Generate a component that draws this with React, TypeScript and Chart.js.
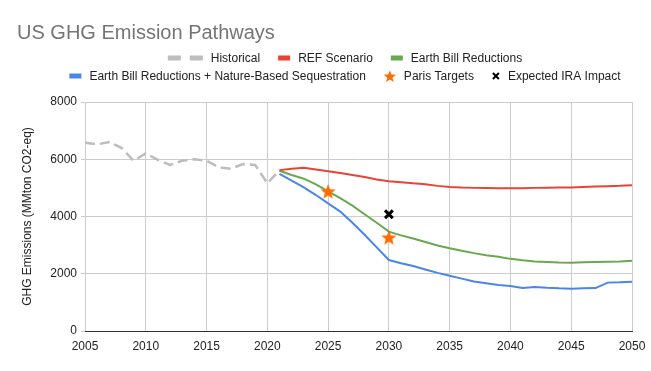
import React, { useEffect, useRef } from "react";
import { Chart, registerables } from "chart.js";

Chart.register(...registerables);

// ---------- DATA ----------
const histYears = [2005, 2006, 2007, 2008, 2009, 2010, 2011, 2012, 2013, 2014, 2015, 2016, 2017, 2018, 2019, 2020, 2021];
const histValues = [6580, 6520, 6600, 6400, 5950, 6200, 5980, 5800, 5950, 6000, 5950, 5720, 5670, 5830, 5800, 5160, 5620];

const projYears = [2021, 2022, 2023, 2024, 2025, 2026, 2027, 2028, 2029, 2030, 2031, 2032, 2033, 2034, 2035, 2036, 2037, 2038, 2039, 2040, 2041, 2042, 2043, 2044, 2045, 2046, 2047, 2048, 2049, 2050];
const refValues = [5620, 5670, 5700, 5640, 5580, 5520, 5450, 5380, 5290, 5230, 5200, 5160, 5130, 5070, 5030, 5010, 5000, 4995, 4990, 4985, 4990, 5000, 5005, 5010, 5010, 5030, 5050, 5060, 5070, 5090];
const ebValues = [5600, 5450, 5320, 5120, 4880, 4640, 4380, 4080, 3780, 3470, 3340, 3230, 3110, 2990, 2890, 2800, 2720, 2650, 2590, 2520, 2470, 2430, 2410, 2390, 2380, 2400, 2410, 2420, 2430, 2450];
const nbsValues = [5490, 5250, 5020, 4750, 4460, 4170, 3780, 3360, 2920, 2480, 2370, 2270, 2150, 2030, 1930, 1830, 1730, 1670, 1610, 1570, 1500, 1540, 1510, 1490, 1480, 1490, 1500, 1690, 1700, 1720];

const parisYears = [2025, 2030];
const parisValues = [4880, 3270];
const iraYears = [2030];
const iraValues = [4080];

const xTicks = [2005, 2010, 2015, 2020, 2025, 2030, 2035, 2040, 2045, 2050];
const yTicks = [0, 2000, 4000, 6000, 8000];

const seriesLabels = [
  "Historical",
  "REF Scenario",
  "Earth Bill Reductions",
  "Earth Bill Reductions + Nature-Based Sequestration",
  "Paris Targets",
  "Expected IRA Impact",
];
const chartTitle = "US GHG Emission Pathways";
const yAxisTitle = "GHG Emissions (MMton CO2-eq)";

// ---------- STYLE ----------
const GRAY = "#bdbdbd";
const RED = "#ea4335";
const GREEN = "#6aa84f";
const BLUE = "#4a86e8";
const ORANGE = "#ff6d01";
const FONT = "'Liberation Sans', Arial, sans-serif";

const toPoints = (xs: number[], ys: number[]) => xs.map((x, i) => ({ x, y: ys[i] }));

function starPath(ctx: CanvasRenderingContext2D, cx: number, cy: number, outer: number, inner: number) {
  ctx.beginPath();
  for (let i = 0; i < 10; i++) {
    const r = i % 2 === 0 ? outer : inner;
    const a = -Math.PI / 2 + (i * Math.PI) / 5;
    const px = cx + r * Math.cos(a);
    const py = cy + r * Math.sin(a);
    if (i === 0) ctx.moveTo(px, py);
    else ctx.lineTo(px, py);
  }
  ctx.closePath();
}

function makeStar(size: number, outer: number, inner: number, color: string) {
  const c = document.createElement("canvas");
  c.width = size;
  c.height = size;
  const ctx = c.getContext("2d")!;
  starPath(ctx, size / 2, size / 2 + 0.8, outer, inner);
  ctx.fillStyle = color;
  ctx.fill();
  return c;
}

const titleLegendPlugin = {
  id: "titleLegend",
  afterDraw(chart: any) {
    const ctx: CanvasRenderingContext2D = chart.ctx;
    ctx.save();
    // title
    ctx.font = `20px ${FONT}`;
    ctx.fillStyle = "#757575";
    ctx.textBaseline = "alphabetic";
    ctx.textAlign = "left";
    ctx.fillText(chartTitle, 17, 39);

    // legend
    const ds = chart.data.datasets;
    const rows = [
      [
        { label: ds[0].label, icon: "dash", color: GRAY },
        { label: ds[1].label, icon: "line", color: RED },
        { label: ds[2].label, icon: "line", color: GREEN },
      ],
      [
        { label: ds[3].label, icon: "line", color: BLUE },
        { label: ds[4].label, icon: "star", color: ORANGE },
        { label: ds[5].label, icon: "x", color: "#000" },
      ],
    ];
    const rowY = [58, 76];
    const centerX = 345;
    const iconW: Record<string, number> = { dash: 35, line: 12, star: 12, x: 8 };
    const iconGap = 8;
    const itemGap = 18;
    ctx.font = `12px ${FONT}`;
    ctx.textBaseline = "middle";
    rows.forEach((row, ri) => {
      const widths = row.map((it) => iconW[it.icon] + iconGap + ctx.measureText(it.label).width);
      const total = widths.reduce((a, b) => a + b, 0) + itemGap * (row.length - 1);
      let x = centerX - total / 2;
      const y = rowY[ri];
      row.forEach((it, i) => {
        const w = iconW[it.icon];
        if (it.icon === "dash") {
          ctx.fillStyle = it.color;
          ctx.fillRect(x, y - 2.5, 13, 5);
          ctx.fillRect(x + 22, y - 2.5, 13, 5);
        } else if (it.icon === "line") {
          ctx.fillStyle = it.color;
          ctx.fillRect(x, y - 2.5, w, 5);
        } else if (it.icon === "star") {
          starPath(ctx, x + w / 2, y + 0.8, 6.5, 2.7);
          ctx.fillStyle = it.color;
          ctx.fill();
        } else if (it.icon === "x") {
          ctx.strokeStyle = it.color;
          ctx.lineWidth = 2;
          ctx.beginPath();
          ctx.moveTo(x + 1, y - 3);
          ctx.lineTo(x + 7, y + 3);
          ctx.moveTo(x + 7, y - 3);
          ctx.lineTo(x + 1, y + 3);
          ctx.stroke();
        }
        ctx.fillStyle = "#222";
        ctx.fillText(it.label, x + w + iconGap, y + 0.5);
        x += widths[i] + itemGap;
      });
    });
    ctx.restore();
  },
};

export default function App() {
  const ref = useRef<HTMLCanvasElement | null>(null);

  useEffect(() => {
    if (!ref.current) return;
    Chart.defaults.font.family = FONT;
    const starImg = makeStar(18, 8, 3.4, ORANGE);
    const chart = new Chart(ref.current, {
      type: "line",
      data: {
        datasets: [
          {
            label: seriesLabels[0],
            data: toPoints(histYears, histValues),
            borderColor: GRAY,
            borderWidth: 2.5,
            borderDash: [10, 5],
            pointRadius: 0,
            fill: false,
            tension: 0,
            order: 4,
          },
          {
            label: seriesLabels[1],
            data: toPoints(projYears, refValues),
            borderColor: RED,
            borderWidth: 2,
            pointRadius: 0,
            fill: false,
            tension: 0,
            order: 3,
          },
          {
            label: seriesLabels[2],
            data: toPoints(projYears, ebValues),
            borderColor: GREEN,
            borderWidth: 2,
            pointRadius: 0,
            fill: false,
            tension: 0,
            order: 3,
          },
          {
            label: seriesLabels[3],
            data: toPoints(projYears, nbsValues),
            borderColor: BLUE,
            borderWidth: 2,
            pointRadius: 0,
            fill: false,
            tension: 0,
            order: 3,
          },
          {
            label: seriesLabels[4],
            data: toPoints(parisYears, parisValues),
            showLine: false,
            pointStyle: starImg as any,
            pointRadius: 8,
            borderColor: ORANGE,
            backgroundColor: ORANGE,
            order: 1,
          },
          {
            label: seriesLabels[5],
            data: toPoints(iraYears, iraValues),
            showLine: false,
            pointStyle: "crossRot",
            pointRadius: 5.5,
            borderWidth: 3,
            borderColor: "#000",
            backgroundColor: "#000",
            order: 0,
          },
        ],
      },
      options: {
        responsive: false,
        animation: false,
        devicePixelRatio: 1,
        layout: { padding: { top: 102, right: 19, bottom: 0, left: 0 } },
        plugins: {
          legend: { display: false },
          title: { display: false },
          tooltip: { enabled: false },
        },
        scales: {
          x: {
            type: "linear",
            min: xTicks[0],
            max: xTicks[xTicks.length - 1],
            afterBuildTicks: (s: any) => {
              s.ticks = xTicks.map((v) => ({ value: v }));
            },
            ticks: {
              callback: (v: any) => String(v),
              color: "#222",
              font: { size: 12 },
              padding: 8,
              maxRotation: 0,
              autoSkip: false,
            },
            grid: { color: "#cccccc", drawTicks: false },
            border: { color: "#333333", width: 1 },
            afterFit: (s: any) => {
              s.height = 40;
              s.paddingLeft = 0;
              s.paddingRight = 0;
            },
          },
          y: {
            min: yTicks[0],
            max: yTicks[yTicks.length - 1],
            afterBuildTicks: (s: any) => {
              s.ticks = yTicks.map((v) => ({ value: v }));
            },
            ticks: {
              callback: (v: any) => String(v),
              color: "#222",
              font: { size: 12 },
              padding: 4,
            },
            grid: { color: "#cccccc", tickLength: 4, drawTicks: true },
            border: { display: false },
            title: {
              display: true,
              text: yAxisTitle,
              color: "#222",
              font: { size: 12 },
              padding: { top: 20, bottom: 0 },
            },
            afterFit: (s: any) => {
              s.width = 85;
            },
          },
        },
      },
      plugins: [titleLegendPlugin],
    });
    return () => chart.destroy();
  }, []);

  return (
    <div style={{ position: "absolute", left: 0, top: 0, width: 651, height: 371, background: "#fff" }}>
      <canvas ref={ref} width={651} height={371} style={{ display: "block", width: 651, height: 371 }} />
    </div>
  );
}
